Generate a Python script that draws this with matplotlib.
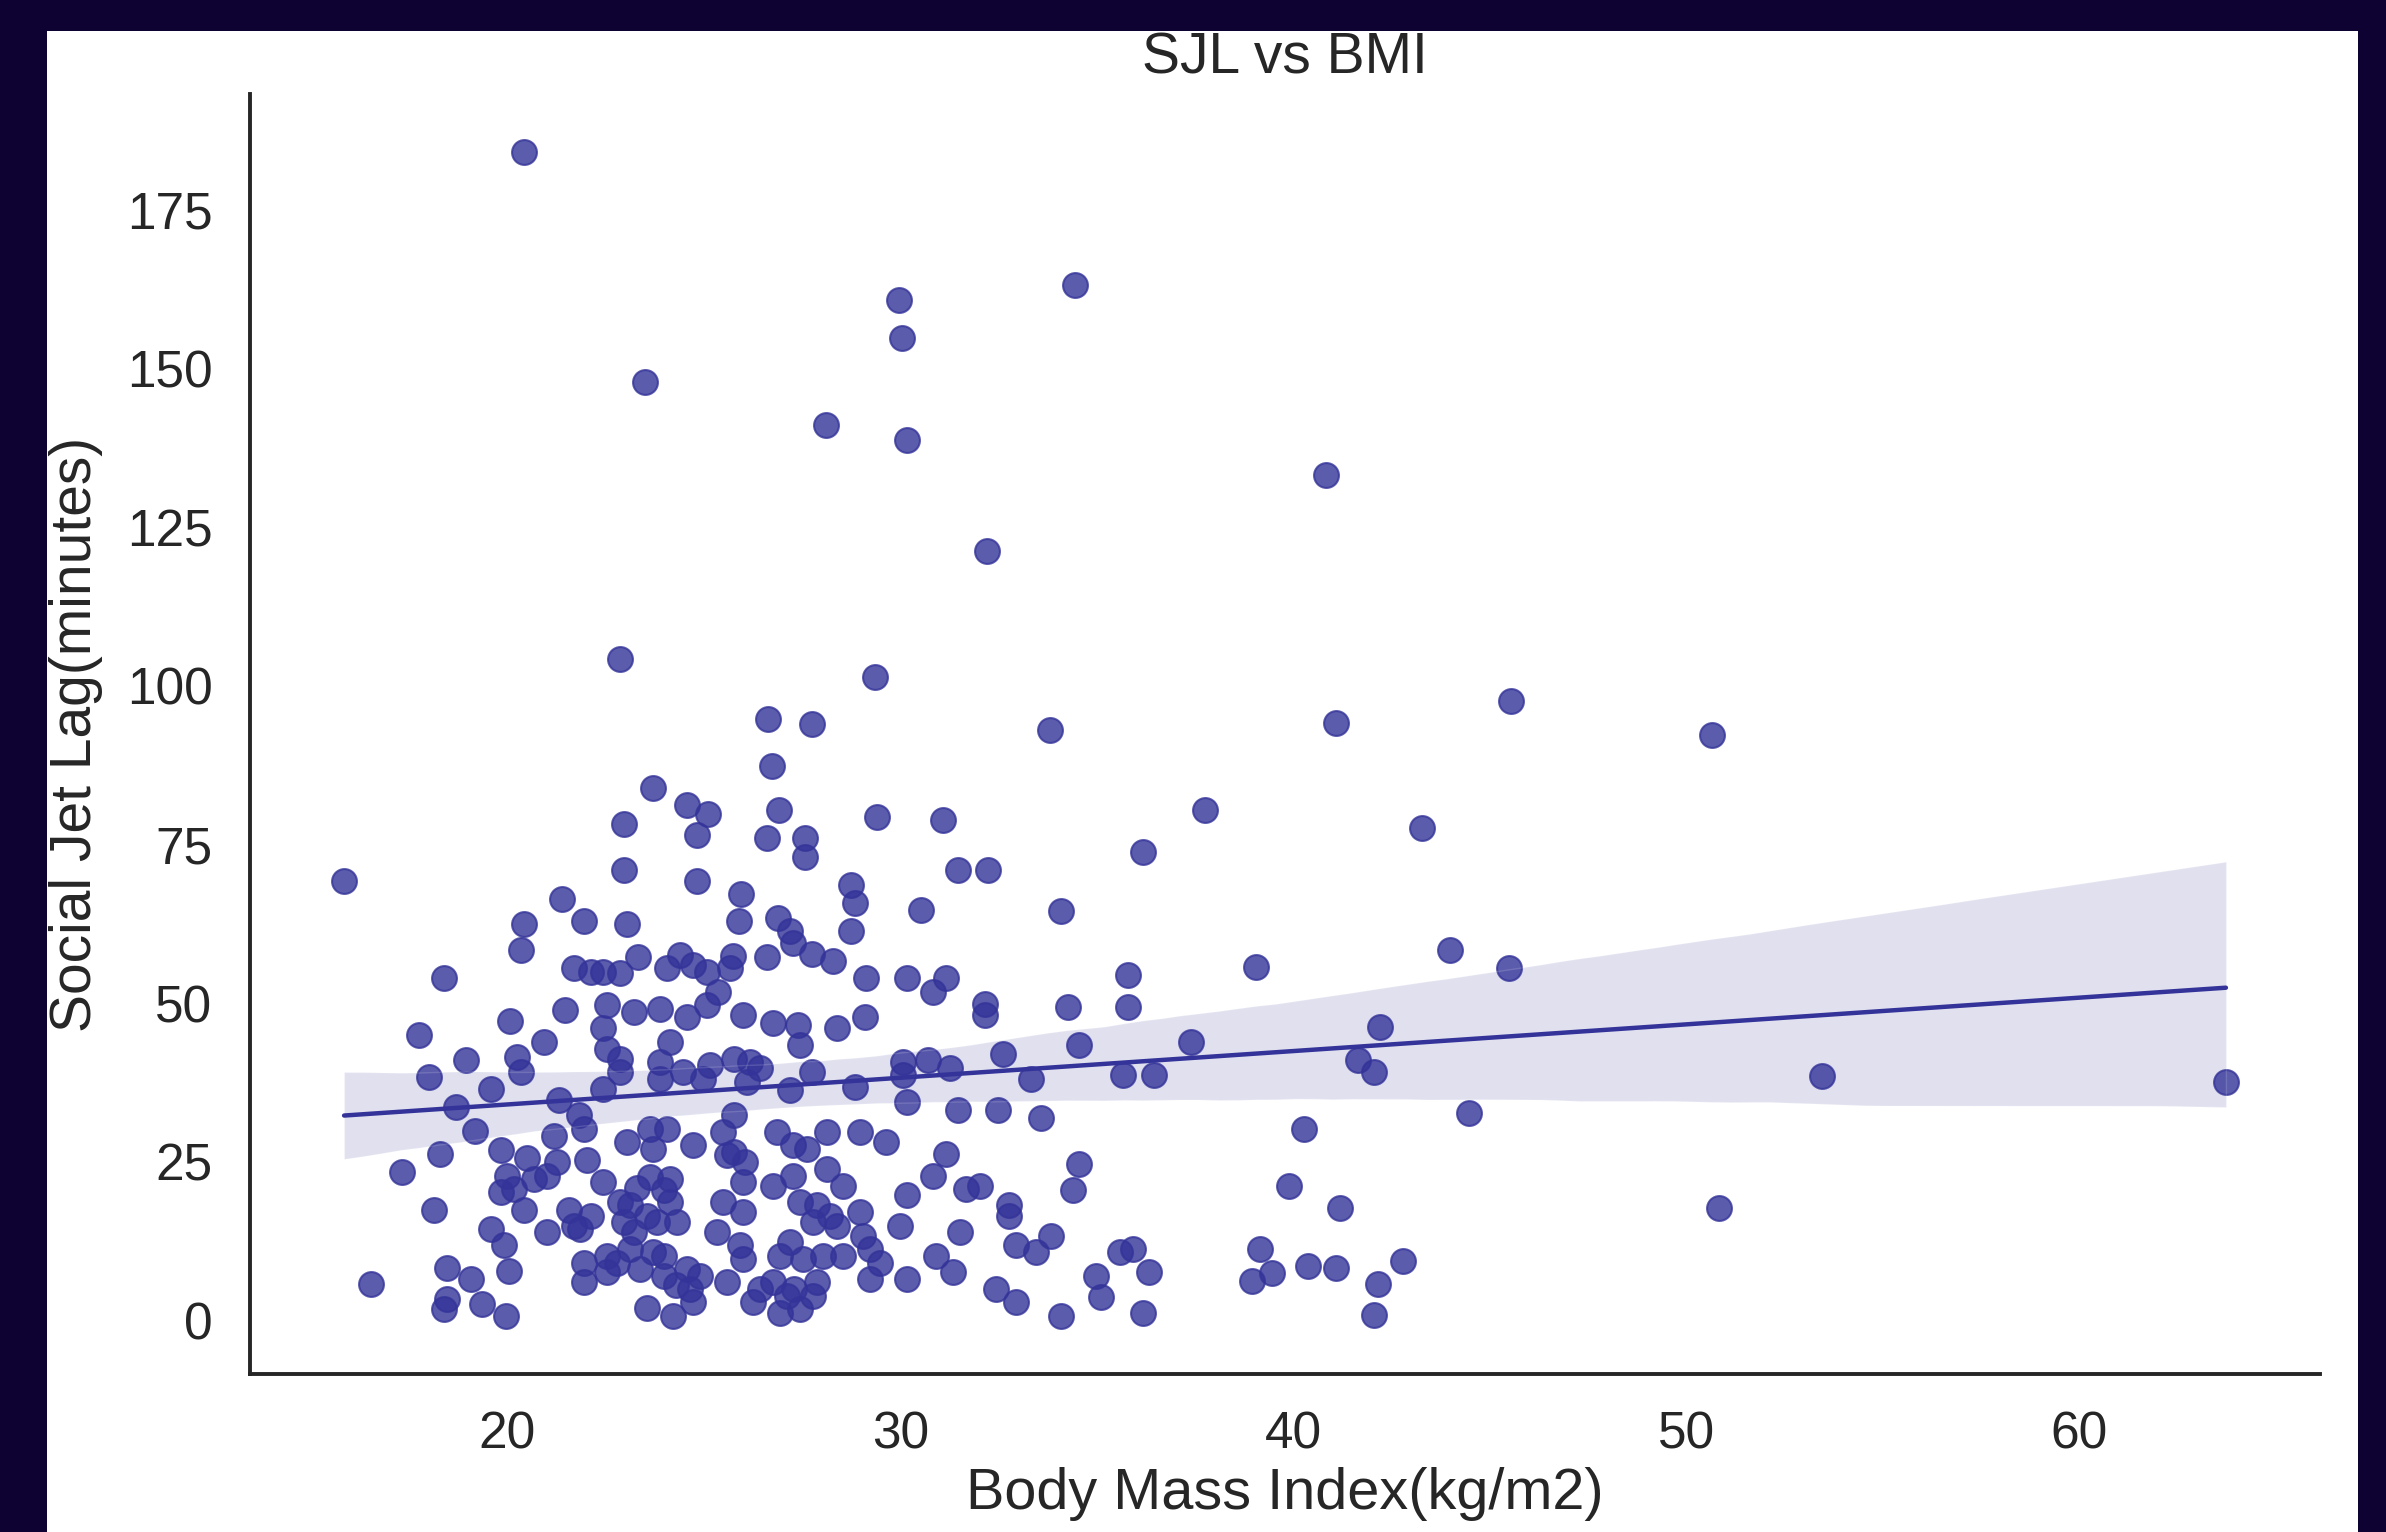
import matplotlib
matplotlib.use("Agg")
import matplotlib.pyplot as plt
from matplotlib.patches import Rectangle
import seaborn as sns
import numpy as np

# ---- data ----
bmi_outer = [20.43, 29.97, 30.05, 34.45, 23.5, 30.16, 28.1, 40.83, 32.2, 45.55, 50.65, 41.1,
             37.75, 43.27, 44.0, 39.05, 45.5, 53.45, 63.73, 44.48, 40.27, 39.9, 41.19, 50.84]
sjl_outer = [184.1, 160.8, 154.8, 163.2, 147.8, 138.7, 141.1, 133.2, 121.2, 97.6, 92.3, 94.2,
             80.5, 77.6, 58.4, 55.6, 55.5, 38.5, 37.5, 32.6, 30.2, 21.1, 17.7, 17.7]

bmi_right = [37.39, 36.46, 42.2, 41.66, 42.05, 39.16, 39.45, 38.96, 40.37, 41.1, 42.8, 42.15, 42.05]
sjl_right = [43.9, 38.7, 46.2, 41.0, 39.2, 11.2, 7.5, 6.2, 8.6, 8.2, 9.3, 5.7, 0.8]

bmi_upleft = [22.88, 23.72, 24.57, 25.12, 24.82, 22.96, 22.96, 24.82, 15.85, 21.4, 21.95, 23.05,
              20.44, 20.36, 23.34, 24.4, 24.74, 24.06, 25.08, 21.69, 22.12, 22.45, 22.88, 25.67, 18.38]
sjl_upleft = [104.2, 83.9, 81.2, 79.8, 76.5, 78.2, 70.9, 69.3, 69.2, 66.4, 63.0, 62.4,
              62.4, 58.4, 57.3, 57.6, 56.0, 55.5, 54.9, 55.5, 54.9, 54.9, 54.7, 55.5, 53.9]

bmi_upmid = [29.35, 26.64, 27.75, 33.82, 26.73, 26.92, 29.41, 31.1, 36.17, 26.62, 27.58, 27.58,
             31.47, 32.23, 25.95, 25.9, 26.9, 27.2, 27.28, 27.75, 28.3, 26.6, 28.76, 28.85,
             28.76, 30.54, 34.1, 29.14, 30.16, 31.17, 35.79, 25.75]
sjl_upmid = [101.4, 94.7, 94.0, 93.0, 87.3, 80.5, 79.3, 78.8, 73.8, 76.0, 76.0, 73.0,
             70.9, 70.9, 67.2, 63.0, 63.4, 61.3, 59.4, 57.8, 56.6, 57.3, 68.6, 65.7,
             61.3, 64.7, 64.5, 53.9, 53.9, 53.9, 54.4, 57.4]

bmi_left = [21.48, 20.08, 17.75, 18.94, 18.01, 19.58, 20.25, 20.34, 20.93, 18.69, 19.19, 21.31,
            18.3, 17.33, 18.14, 16.53, 18.48, 19.07, 18.48, 18.39, 19.36, 19.96, 19.58, 19.91,
            20.04, 19.83, 20.0, 20.17, 19.83, 20.51, 20.68, 20.42, 21.82, 25.76, 23.22, 23.89,
            24.57, 25.08, 25.37, 22.54, 22.45, 22.54, 22.88, 22.88, 22.45, 24.15, 23.89, 23.89,
            24.48, 25.16, 24.99, 25.76, 26.01]
sjl_left = [48.9, 47.2, 44.9, 41.0, 38.4, 36.5, 41.5, 39.1, 43.9, 33.6, 29.9, 34.7,
            26.2, 23.3, 17.3, 5.7, 8.3, 6.5, 3.3, 1.8, 2.5, 0.7, 14.4, 11.8,
            7.8, 26.8, 22.8, 20.7, 20.2, 25.5, 22.3, 17.3, 32.3, 32.3, 48.6, 49.1,
            47.8, 49.7, 51.8, 49.7, 46.0, 42.8, 41.2, 39.1, 36.5, 43.9, 40.7, 38.1,
            39.1, 40.2, 38.1, 41.2, 48.1]

bmi_mid = [30.84, 32.15, 32.15, 34.26, 35.79, 34.56, 32.61, 35.66, 33.33, 31.47, 32.49, 33.59,
           30.07, 30.71, 31.26, 30.07, 30.16, 28.85, 27.2, 27.75, 27.41, 27.45, 28.38, 29.1,
           26.77, 26.18, 26.43, 26.1, 34.56, 34.39, 33.84, 34.1, 34.98, 35.11, 35.58, 35.91,
           36.34, 36.17]
sjl_mid = [51.8, 49.9, 48.1, 49.4, 49.4, 43.4, 42.0, 38.6, 38.1, 33.1, 33.1, 31.8,
           40.7, 41.0, 39.7, 38.6, 34.4, 36.8, 36.3, 39.1, 46.5, 43.4, 46.0, 47.8,
           46.8, 40.7, 39.7, 37.6, 24.7, 20.5, 13.3, 0.7, 7.0, 3.6, 10.7, 11.2,
           7.6, 1.2]

bmi_dense = [21.02, 21.27, 21.18, 21.95, 22.03, 22.45, 21.56, 21.86, 22.12, 21.95, 21.95, 22.54,
             22.54, 23.05, 23.64, 24.06, 23.72, 23.64, 24.15, 22.88, 23.13, 23.56, 23.22, 23.81,
             24.32, 23.13, 23.72, 23.39, 23.98, 24.57, 24.91, 24.66, 25.59, 23.56, 24.23, 24.74,
             24.74, 25.5, 26.01, 25.33, 25.93, 26.01, 25.5, 25.76, 26.05, 26.01, 26.86, 27.28,
             27.62, 28.13, 28.13, 28.55, 28.97, 29.65, 26.77, 27.28, 27.45, 27.87, 28.21, 28.97,
             27.79, 28.38, 29.06, 29.23, 27.2, 26.94, 27.53, 28.04, 28.55, 29.48, 29.23, 30.16,
             29.99, 30.16, 30.84, 31.17, 31.68, 32.02, 31.51, 32.78, 32.78, 30.92, 31.34, 32.44,
             32.95, 32.95, 33.46, 26.26, 26.43, 26.77, 27.11, 26.94, 27.45, 27.79, 27.87, 24.15,
             22.96, 22.79, 21.69, 25.59, 23.98, 21.0, 24.0, 23.3, 24.3, 27.3]
sjl_dense = [13.9, 24.9, 29.1, 30.2, 25.2, 21.8, 17.3, 14.4, 16.5, 9.1, 6.0, 7.6,
             10.2, 28.1, 30.2, 30.2, 27.0, 22.6, 22.3, 18.6, 18.1, 16.5, 13.9, 15.5,
             15.5, 11.2, 10.7, 8.1, 7.0, 8.1, 7.0, 4.9, 6.0, 2.0, 0.7, 2.8,
             27.6, 18.6, 17.0, 13.9, 11.8, 9.7, 29.7, 26.5, 24.9, 21.8, 29.7, 27.6,
             27.0, 29.7, 23.9, 21.2, 29.7, 28.1, 21.2, 22.8, 18.6, 18.1, 16.5, 17.0,
             15.5, 14.9, 13.3, 11.2, 12.3, 10.2, 9.7, 10.2, 10.2, 9.1, 6.5, 6.5,
             14.9, 19.7, 22.8, 26.2, 20.7, 21.2, 13.9, 18.1, 16.5, 10.2, 7.6, 4.9,
             2.8, 11.8, 10.7, 2.8, 4.9, 6.0, 3.9, 1.2, 1.8, 3.9, 6.0, 18.6,
             15.5, 9.1, 14.9, 26.0, 10.2, 22.8, 20.5, 20.8, 5.5, 5.0]

bmi = np.array(bmi_outer + bmi_right + bmi_upleft + bmi_upmid + bmi_left + bmi_mid + bmi_dense)
sjl = np.array(sjl_outer + sjl_right + sjl_upleft + sjl_upmid + sjl_left + sjl_mid + sjl_dense)

title = "SJL vs BMI"
xlabel = "Body Mass Index(kg/m2)"
ylabel = "Social Jet Lag(minutes)"

# ---- style ----
sns.set_theme(style="white")
plt.rcParams['font.family'] = ['Liberation Sans', 'DejaVu Sans']

W, H = 2386, 1532
fig = plt.figure(figsize=(W / 100, H / 100), dpi=100, facecolor='#0e0232')
fig.patches.append(Rectangle((47 / W, 0), (2358 - 47) / W, (H - 31) / H,
                             transform=fig.transFigure, facecolor='white',
                             edgecolor='none', zorder=-10))

ax = fig.add_axes([250 / W, 1 - 1374 / H, (2320 - 250) / W, (1374 - 94) / H])
ax.set_facecolor('none')
sns.regplot(x=bmi, y=sjl, ax=ax, color='#333399', seed=0,
            scatter_kws={'s': 320, 'linewidths': 1.5},
            line_kws={'lw': 3.2})

sns.despine(ax=ax)
for sp in ['left', 'bottom']:
    ax.spines[sp].set_linewidth(2.8)
    ax.spines[sp].set_color('#262626')

ax.set_xticks([20, 30, 40, 50, 60])
ax.set_yticks([0, 25, 50, 75, 100, 125, 150, 175])
ax.tick_params(axis='both', length=0, labelsize=37, labelcolor='#262626')
ax.tick_params(axis='x', pad=26)
ax.tick_params(axis='y', pad=27)

ax.set_title(title, fontsize=41, color='#262626', pad=15)
ax.set_xlabel(xlabel, fontsize=41.5, color='#262626')
ax.set_ylabel(ylabel, fontsize=41, color='#262626')
ax.xaxis.set_label_coords(0.5, -0.073)
ax.yaxis.set_label_coords(-0.071, 0.5)

fig.savefig("out.png", dpi=100, facecolor=fig.get_facecolor())
